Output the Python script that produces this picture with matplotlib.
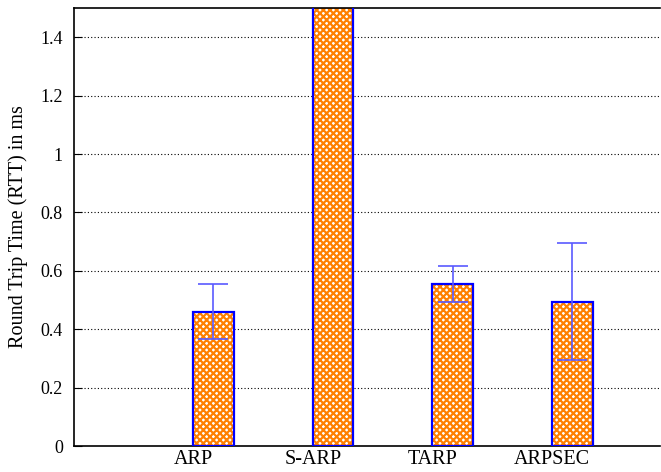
import matplotlib.pyplot as plt
import numpy as np

protocols = ['ARP', 'S-ARP', 'TARP', 'ARPSEC']
rtt_ms = [0.46, 1.9, 0.555, 0.494]
rtt_err = [0.095, 0.0, 0.063, 0.2]

plt.rcParams['font.family'] = ['Liberation Serif', 'DejaVu Serif']
plt.rcParams['hatch.linewidth'] = 1.6

fig = plt.figure(figsize=(6.61, 4.72), dpi=100)
ax = fig.add_axes([0.112, 0.055, 0.886, 0.928])

x = np.arange(len(protocols))
width = 0.34

# orange crosshatch fill, then blue outline on top
ax.bar(x, rtt_ms, width, color='white', edgecolor='#ff8000', hatch='xxxxx',
       linewidth=0, zorder=2)
ax.bar(x, rtt_ms, width, color='none', edgecolor='#0000ff', linewidth=1.6,
       zorder=3)
ax.errorbar(x, rtt_ms, yerr=rtt_err, fmt='none', ecolor='#5a5aff',
            elinewidth=1.2, capsize=10.5, capthick=1.2, zorder=4)

ax.set_xlim(-1.164, 3.73)
ax.set_ylim(0, 1.5)
ax.set_yticks(np.arange(0, 1.41, 0.2))
ax.set_yticklabels(['0', '0.2', '0.4', '0.6', '0.8', '1', '1.2', '1.4'])
# category labels sit a little left of the bars, as in the original
ax.set_xticks(x - 0.168)
ax.set_xticklabels(protocols)
ax.tick_params(axis='y', direction='in', length=6, labelsize=13, pad=8)
ax.tick_params(axis='x', length=0, labelsize=14.5, pad=3)

for yv in np.arange(0.2, 1.41, 0.2):
    ax.axhline(yv, color='black', linestyle=(0, (1, 2)), linewidth=0.8,
               zorder=1)

ax.spines['right'].set_visible(False)
for s in ['left', 'bottom', 'top']:
    ax.spines[s].set_linewidth(1.2)

ax.set_ylabel('Round Trip Time (RTT) in ms', fontsize=14.5, labelpad=9)

fig.savefig('out.png', dpi=100)
